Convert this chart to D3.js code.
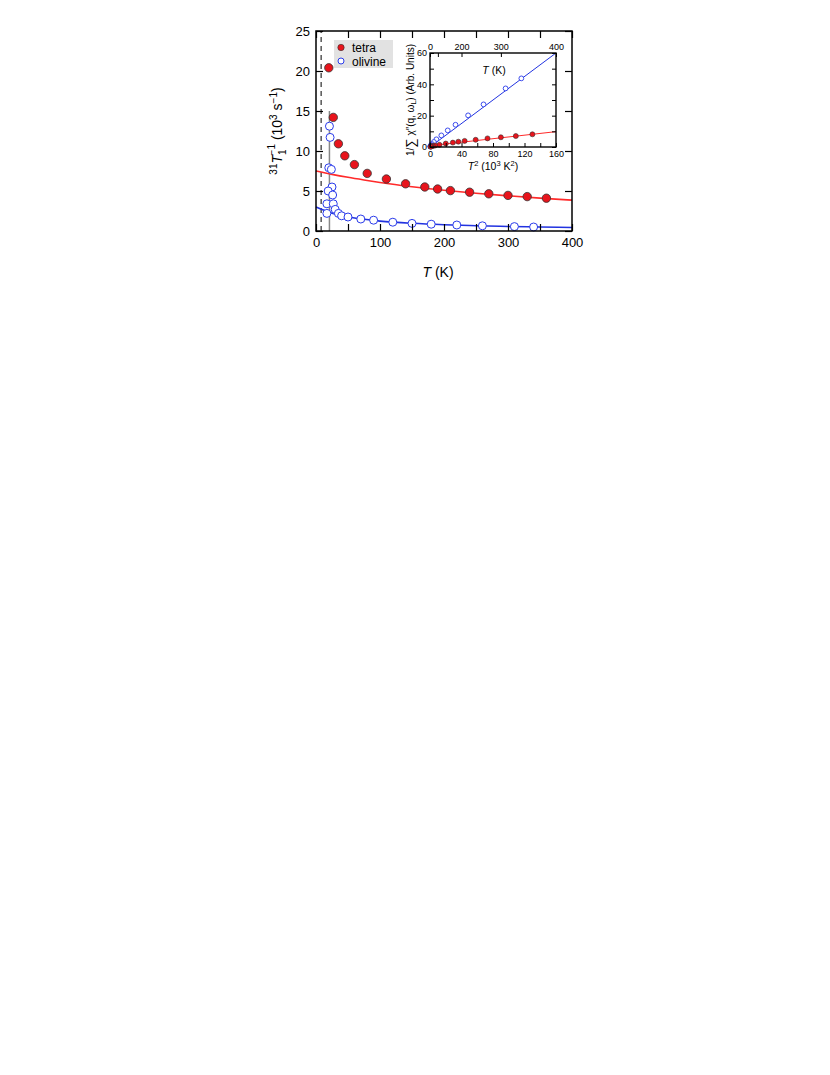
<!DOCTYPE html>
<html><head><meta charset="utf-8">
<script src="https://cdn.jsdelivr.net/npm/d3@7"></script>
<style>body{margin:0;background:#fff}svg{font-family:"Liberation Sans",Arial,sans-serif}</style>
</head><body>
<svg id="c" width="830" height="1075"></svg>
<script>
// ---- main panel data ----
const tetraT = [20, 27, 35, 45, 60, 80, 110, 140, 170, 190, 210, 240, 270, 300, 330, 360];
const tetraRate = [20.4, 14.2, 10.9, 9.4, 8.3, 7.2, 6.5, 5.9, 5.5, 5.25, 5.05, 4.85, 4.65, 4.45, 4.3, 4.1];
const olivT = [21, 22, 20, 24, 25, 19, 26, 17, 27, 17, 30, 35, 40, 50, 70, 90, 120, 150, 180, 220, 260, 310, 340];
const olivRate = [13.1, 11.7, 7.9, 7.7, 5.5, 5.0, 4.5, 3.4, 3.4, 2.2, 2.7, 2.2, 1.9, 1.75, 1.5, 1.35, 1.1, 0.95, 0.85, 0.75, 0.65, 0.55, 0.5];
const fitT = [0, 25, 50, 75, 100, 150, 200, 250, 300, 350, 400];
const tetraFit = [7.5, 7.08, 6.71, 6.38, 6.07, 5.54, 5.1, 4.72, 4.4, 4.11, 3.86];
const olivFit = [3.0, 2.22, 1.76, 1.46, 1.24, 0.96, 0.78, 0.66, 0.57, 0.5, 0.44];
const xTicks = [0, 100, 200, 300, 400];
const yTicks = [0, 5, 10, 15, 20, 25];
// ---- inset data ----
const insTetraX = [130, 109, 90, 73, 58, 44, 36, 29, 20, 12, 6.4, 3.6, 2.0, 1.2, 0.7];
const insTetraY = [8.1, 7.0, 6.2, 5.5, 4.6, 3.9, 3.4, 2.8, 2.2, 1.4, 0.9, 0.6, 0.4, 0.3, 0.2];
const insOlivX = [116, 96, 68, 48.4, 32.4, 22.5, 14.4, 8.1, 4.9, 2.5, 1.6, 1.2, 0.9, 0.6];
const insOlivY = [43.8, 37.4, 27.2, 20.2, 14.2, 10.6, 7.4, 4.9, 3.2, 1.9, 1.3, 1.0, 0.7, 0.5];
const insLineX = [0, 160];
const insOlivLine = [0, 60];
const insTetraLine = [0.8, 9.8];
const insXTicks = [0, 40, 80, 120, 160];
const insYTicks = [0, 20, 40, 60];
const insTopTicks = [0, 100, 200, 300, 400];
const insTopLabels = ["0", "", "200", "300", "400"];

const RED = "#e8141c", BLUE = "#2a3bea", REDL = "#ff2a2a", BLUEL = "#2233e0";
const svg = d3.select("#c");

const x = d3.scaleLinear().domain([0, 400]).range([316, 572]);
const y = d3.scaleLinear().domain([0, 25]).range([231, 31]);

const g = svg.append("g");
g.append("line").attr("x1", x(8)).attr("x2", x(8)).attr("y1", y(0)).attr("y2", y(25))
  .attr("stroke", "#000").attr("stroke-width", 1).attr("stroke-dasharray", "5,4");
g.append("line").attr("x1", x(21)).attr("x2", x(21)).attr("y1", y(0)).attr("y2", y(15))
  .attr("stroke", "#888").attr("stroke-width", 1.5);

const line = d3.line().curve(d3.curveMonotoneX);
g.append("path").attr("d", line(fitT.map((t, i) => [x(t), y(tetraFit[i])])))
  .attr("fill", "none").attr("stroke", REDL).attr("stroke-width", 1.6);
g.append("path").attr("d", line(fitT.map((t, i) => [x(t), y(olivFit[i])])))
  .attr("fill", "none").attr("stroke", BLUEL).attr("stroke-width", 1.6);

g.selectAll(".ol").data(olivT).join("circle")
  .attr("cx", d => x(d)).attr("cy", (d, i) => y(olivRate[i])).attr("r", 4)
  .attr("fill", "#fff").attr("stroke", BLUE).attr("stroke-width", 1);
g.selectAll(".te").data(tetraT).join("circle")
  .attr("cx", d => x(d)).attr("cy", (d, i) => y(tetraRate[i])).attr("r", 4.2)
  .attr("fill", RED).attr("stroke", "#333").attr("stroke-width", 0.8);

const axB = d3.axisBottom(x).tickValues(d3.range(0, 401, 50)).tickSize(-7).tickFormat(d => xTicks.includes(d) ? d : "");
const axT = d3.axisTop(x).tickValues(d3.range(0, 401, 50)).tickSize(-7).tickFormat("");
const axL = d3.axisLeft(y).tickValues(yTicks).tickSize(-7);
const axR = d3.axisRight(y).tickValues(yTicks).tickSize(-7).tickFormat("");
function styleAx(sel, fs) {
  sel.select(".domain").remove();
  sel.selectAll(".tick line").attr("stroke", "#000").attr("stroke-width", 1.2);
  sel.selectAll(".tick text").attr("font-size", fs).attr("fill", "#000").attr("font-family", "Liberation Sans, Arial");
}
const gb = svg.append("g").attr("transform", "translate(0,231)").call(axB); styleAx(gb, 13);
gb.selectAll(".tick text").attr("y", 7);
const gt = svg.append("g").attr("transform", "translate(0,31)").call(axT); styleAx(gt, 13);
const gl = svg.append("g").attr("transform", "translate(316,0)").call(axL); styleAx(gl, 13);
gl.selectAll(".tick text").attr("x", -6);
const gr = svg.append("g").attr("transform", "translate(572,0)").call(axR); styleAx(gr, 13);
svg.append("rect").attr("x", 316).attr("y", 31).attr("width", 256).attr("height", 200)
  .attr("fill", "none").attr("stroke", "#000").attr("stroke-width", 1.5);

const xt = svg.append("text").attr("x", 438).attr("y", 277).attr("text-anchor", "middle").attr("font-size", 14);
xt.append("tspan").attr("font-style", "italic").text("T");
xt.append("tspan").text(" (K)");
const yt = svg.append("text").attr("transform", "translate(282,131) rotate(-90)").attr("text-anchor", "middle").attr("font-size", 14);
yt.append("tspan").attr("font-size", 10).attr("dy", -5).text("31");
yt.append("tspan").attr("font-style", "italic").attr("dy", 5).text("T");
yt.append("tspan").attr("font-size", 10).attr("dy", 4).text("1");
yt.append("tspan").attr("font-size", 10).attr("dx", -6).attr("dy", -11).text("\u22121");
yt.append("tspan").attr("dy", 7).text(" (10");
yt.append("tspan").attr("font-size", 10).attr("dy", -5).text("3");
yt.append("tspan").attr("dy", 5).text(" s");
yt.append("tspan").attr("font-size", 10).attr("dy", -5).text("\u22121");
yt.append("tspan").attr("dy", 5).text(")");

// legend
const lg = svg.append("g");
lg.append("rect").attr("x", 334).attr("y", 40).attr("width", 59).attr("height", 28).attr("fill", "#e2e2e2");
lg.append("circle").attr("cx", 341).attr("cy", 47.5).attr("r", 3.2).attr("fill", RED).attr("stroke", "#333").attr("stroke-width", 0.6);
lg.append("circle").attr("cx", 341).attr("cy", 61).attr("r", 3).attr("fill", "#fff").attr("stroke", BLUE).attr("stroke-width", 1);
lg.append("text").attr("x", 352).attr("y", 51.5).attr("font-size", 12).text("tetra");
lg.append("text").attr("x", 352).attr("y", 65.5).attr("font-size", 12).text("olivine");

// ---- inset ----
const ix = d3.scaleLinear().domain([0, 160]).range([430, 556]);
const iy = d3.scaleLinear().domain([0, 60]).range([147, 53]);
const itop = d3.scalePow().exponent(2).domain([0, 400]).range([430, 556]);
const ig = svg.append("g");
ig.append("rect").attr("x", 430).attr("y", 53).attr("width", 126).attr("height", 94).attr("fill", "#fff");
ig.append("path").attr("d", d3.line()(insLineX.map((v, i) => [ix(v), iy(insOlivLine[i])])))
  .attr("stroke", BLUEL).attr("stroke-width", 1).attr("fill", "none");
ig.append("path").attr("d", d3.line()(insLineX.map((v, i) => [ix(v), iy(insTetraLine[i])])))
  .attr("stroke", REDL).attr("stroke-width", 1).attr("fill", "none");
ig.selectAll(".io").data(insOlivX).join("circle")
  .attr("cx", d => ix(d)).attr("cy", (d, i) => iy(insOlivY[i])).attr("r", 2.4)
  .attr("fill", "#fff").attr("stroke", BLUE).attr("stroke-width", 0.9);
ig.append("circle").attr("cx", ix(0.3)).attr("cy", iy(0.3)).attr("r", 2.6).attr("fill", BLUE);
ig.selectAll(".it").data(insTetraX).join("circle")
  .attr("cx", d => ix(d)).attr("cy", (d, i) => iy(insTetraY[i])).attr("r", 2.5)
  .attr("fill", RED).attr("stroke", "#333").attr("stroke-width", 0.6);

const iaB = d3.axisBottom(ix).tickValues(d3.range(0, 161, 20)).tickSize(-4).tickFormat(d => insXTicks.includes(d) ? d : "");
const iaL = d3.axisLeft(iy).tickValues(d3.range(0, 61, 10)).tickSize(-4).tickFormat(d => insYTicks.includes(d) ? d : "");
const iaR = d3.axisRight(iy).tickValues(d3.range(0, 61, 10)).tickSize(-4).tickFormat("");
const iaT = d3.axisTop(itop).tickValues(insTopTicks).tickSize(-4).tickFormat((d, i) => insTopLabels[i]);
const ib = svg.append("g").attr("transform", "translate(0,147)").call(iaB); styleAx(ib, 9);
ib.selectAll(".tick text").attr("y", 4);
const il = svg.append("g").attr("transform", "translate(430,0)").call(iaL); styleAx(il, 9);
il.selectAll(".tick text").attr("x", -3);
const ir = svg.append("g").attr("transform", "translate(556,0)").call(iaR); styleAx(ir, 9);
const itp = svg.append("g").attr("transform", "translate(0,53)").call(iaT); styleAx(itp, 9);
itp.selectAll(".tick text").attr("y", -3);
[ib, il, ir, itp].forEach(s => s.selectAll(".tick line").attr("stroke-width", 1));
svg.append("rect").attr("x", 430).attr("y", 53).attr("width", 126).attr("height", 94)
  .attr("fill", "none").attr("stroke", "#000").attr("stroke-width", 1.4);

const it1 = svg.append("text").attr("x", 494).attr("y", 74).attr("text-anchor", "middle").attr("font-size", 10.5);
it1.append("tspan").attr("font-style", "italic").text("T");
it1.append("tspan").text(" (K)");
const it2 = svg.append("text").attr("x", 493).attr("y", 170).attr("text-anchor", "middle").attr("font-size", 10.5);
it2.append("tspan").attr("font-style", "italic").text("T");
it2.append("tspan").attr("font-size", 7.5).attr("dy", -4).text("2");
it2.append("tspan").attr("dy", 4).text(" (10");
it2.append("tspan").attr("font-size", 7.5).attr("dy", -4).text("3");
it2.append("tspan").attr("dy", 4).text(" K");
it2.append("tspan").attr("font-size", 7.5).attr("dy", -4).text("2");
it2.append("tspan").attr("dy", 4).text(")");
const it3 = svg.append("text").attr("transform", "translate(414,100) rotate(-90)").attr("text-anchor", "middle").attr("font-size", 10);
it3.append("tspan").text("1/");
it3.append("tspan").attr("font-size", 13).attr("dy", 1).text("\u2211");
it3.append("tspan").attr("dy", -1).text(" \u03C7\u2033(q, \u03C9");
it3.append("tspan").attr("font-size", 7).attr("dy", 2).text("L");
it3.append("tspan").attr("dy", -2).text(") (Arb. Units)");
</script>
</body></html>
